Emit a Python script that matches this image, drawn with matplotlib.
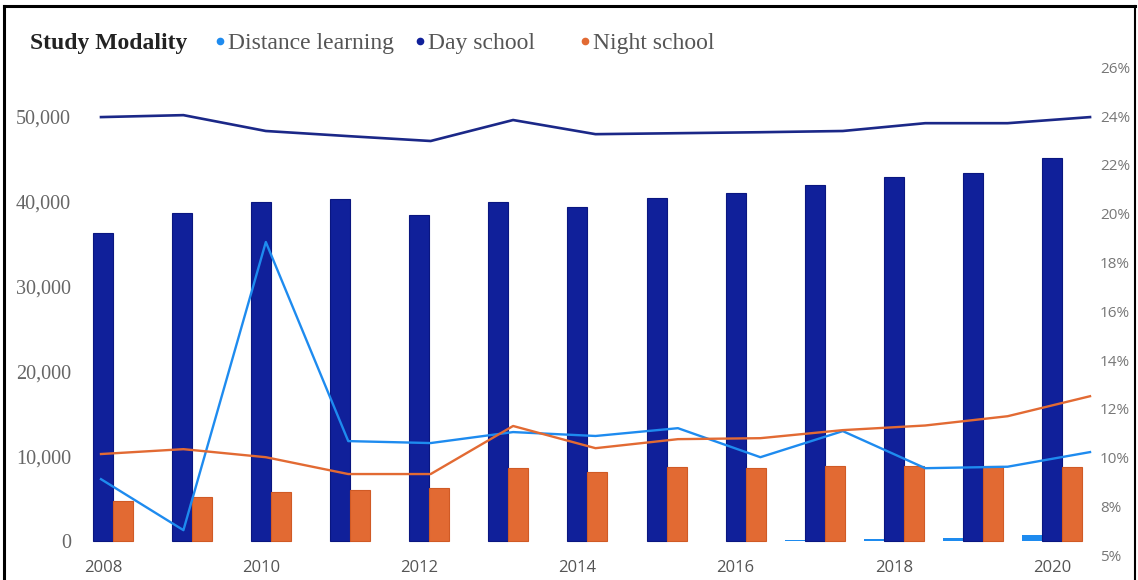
import matplotlib
matplotlib.use("Agg")
import matplotlib.pyplot as plt
import numpy as np
from matplotlib.lines import Line2D

years = [2008, 2009, 2010, 2011, 2012, 2013, 2014, 2015, 2016, 2017, 2018, 2019, 2020]

# enrolment counts (left axis, bars)
distance_count = [0, 0, 0, 0, 0, 0, 0, 0, 0, 100, 200, 400, 700]
day_count = [36300, 38700, 40000, 40300, 38400, 40000, 39400, 40500, 41000, 42000, 42900, 43400, 45200]
night_count = [4700, 5200, 5800, 6000, 6250, 8600, 8150, 8700, 8600, 8800, 8800, 8800, 8750]

# rates in percent (right axis, lines)
distance_pct = [9.12, 7.03, 18.84, 10.68, 10.60, 11.05, 10.89, 11.21, 10.02, 11.09, 9.57, 9.63, 10.23]
day_pct = [23.96, 24.04, 23.39, 23.18, 22.98, 23.84, 23.26, 23.30, 23.34, 23.39, 23.71, 23.71, 23.96]
night_pct = [10.15, 10.35, 10.02, 9.33, 9.33, 11.30, 10.39, 10.76, 10.80, 11.13, 11.32, 11.70, 12.52]

left_ticks = [0, 10000, 20000, 30000, 40000, 50000]
right_ticks = [6, 8, 10, 12, 14, 16, 18, 20, 22, 24, 26]
right_labels = ["5%", "8%", "10%", "12%", "14%", "16%", "18%", "20%", "22%", "24%", "26%"]
year_labels = ["2008", "2010", "2012", "2014", "2016", "2018", "2020"]
series_names = ["Distance learning", "Day school", "Night school"]

c_dist = "#1E8BEF"
c_day = "#10209A"
c_night = "#E26A33"
c_dayline = "#1B2888"

W, H = 1138, 580
fig = plt.figure(figsize=(W / 100, H / 100), dpi=100)

x0, x1, ytop, ybot = 78, 1093, 60, 557
rect = [x0 / W, 1 - ybot / H, (x1 - x0) / W, (ybot - ytop) / H]

ax = fig.add_axes(rect)
idx = np.arange(len(years))
bw = 0.253
ax.bar(idx - bw, distance_count, bw, color=c_dist, linewidth=0)
ax.bar(idx, day_count, bw, color=c_day, edgecolor="#0A1680", linewidth=0.8)
ax.bar(idx + bw, night_count, bw, color=c_night, edgecolor="#D05A25", linewidth=0.8)
ax.set_xlim(-0.316, 12.519)
ax.set_ylim(-1887, 56721)
ax.set_yticks(left_ticks)
ax.set_yticklabels([f"{v:,}" for v in left_ticks], family="Liberation Serif",
                   fontsize=14.5, color="#666666")
ax.set_xticks(idx[::2])
ax.set_xticklabels(year_labels, family="Open Sans", fontsize=12, color="#555555")
ax.tick_params(length=0, pad=2)
ax.tick_params(axis="y", pad=5)
for s in ax.spines.values():
    s.set_visible(False)

# line series on their own axes
ax2 = fig.add_axes(rect)
ax2.patch.set_visible(False)
ax2.plot(idx, distance_pct, color=c_dist, lw=1.7)
ax2.plot(idx, day_pct, color=c_dayline, lw=1.9)
ax2.plot(idx, night_pct, color=c_night, lw=1.7)
ax2.set_xlim(-0.279, 12.036)
ax2.set_ylim(5.93, 26.30)
ax2.set_xticks([])
ax2.yaxis.tick_right()
ax2.set_yticks(right_ticks)
ax2.set_yticklabels(right_labels, family="Open Sans", fontsize=11, color="#777777")
ax2.tick_params(length=0, pad=5)
for s in ax2.spines.values():
    s.set_visible(False)

# legend row
ly = 1 - 43 / H
fig.text(30 / W, ly, "Study Modality", family="Liberation Serif", fontweight="bold",
         fontsize=17, color="#222222", va="center", ha="left")
for name, col, xd in zip(series_names, (c_dist, c_day, c_night), (220, 420, 585)):
    fig.add_artist(Line2D([xd / W], [ly + 0.004], ls="none", marker="o", ms=4.5,
                          color=col))
    fig.text((xd + 8) / W, ly, name, family="Liberation Serif", fontsize=17,
             color="#555555", va="center", ha="left")

# frame around the figure
fig.add_artist(Line2D([4 / W, 4 / W], [0, 1 - 6 / H], color="black", lw=2.2))
fig.add_artist(Line2D([4 / W, 1135 / W], [1 - 6 / H, 1 - 6 / H], color="black", lw=2.2))
fig.add_artist(Line2D([1135 / W, 1135 / W], [0, 1 - 6 / H], color="black", lw=1.5))

fig.savefig("out.png", dpi=100)
